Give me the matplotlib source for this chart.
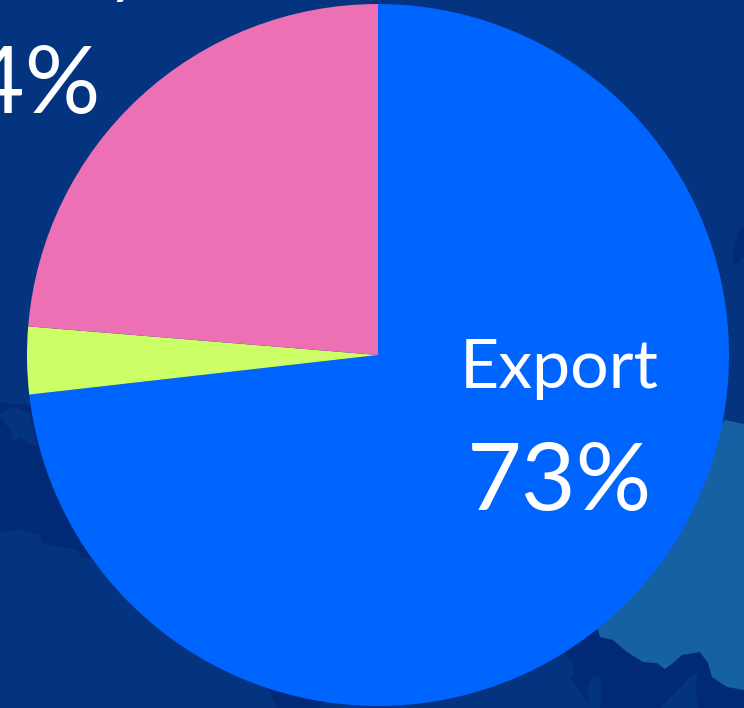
import matplotlib
matplotlib.use('Agg')
import matplotlib.pyplot as plt
from matplotlib.patches import Polygon

plt.rcParams['font.family'] = ['Lato', 'DejaVu Sans']

W = 744
H = 708

# pie
shares = [73.2, 3.1, 23.7]
colors = ['#0064ff', '#ccff66', '#ed70b5']
export_label = 'Export'
export_value = '73%'
other_value = '24%'
other_label_tail = 'y'

# map shapes behind the pie, traced in pixels
bg_color = '#04337f'
dark_color = '#002a75'
land_color = '#1660a4'

dark_left = [(0, 403), (30, 405), (150, 500), (150, 560), (90, 559), (80, 557), (78, 550), (67, 548),
             (42, 543), (40, 535), (17, 529), (0, 532)]
dark_strip = [(265, 680), (330, 680), (320, 708), (277, 708)]
dark_bottom = [(565, 640), (598, 630), (600, 637), (613, 640), (627, 652), (643, 662), (657, 663),
               (665, 669), (673, 663), (682, 655), (700, 652), (708, 663), (712, 677), (727, 687),
               (744, 690), (744, 708), (698, 708), (695, 687), (698, 672), (690, 677), (660, 708),
               (600, 708), (602, 690), (600, 675), (592, 677), (587, 690), (590, 708), (587, 702),
               (570, 677), (575, 673), (573, 663), (565, 655)]
dark_right = [(744, 226), (738, 232), (733, 252), (733, 264), (738, 263), (744, 256)]
land_right = [(725, 420), (744, 424), (744, 690), (727, 687), (712, 677), (708, 663), (700, 652),
              (682, 655), (673, 663), (665, 669), (657, 663), (643, 662), (627, 652), (613, 640),
              (600, 637), (598, 630), (560, 600)]
island_left = [(0, 413), (13, 407), (30, 413), (37, 447), (28, 443), (20, 437), (13, 442), (10, 430),
               (0, 417)]


def add_shape(ax, points, color):
    ax.add_patch(Polygon(points, closed=True, facecolor=color, edgecolor='none'))


fig = plt.figure(figsize=(W / 100, H / 100), dpi=100, facecolor=bg_color)

bg = fig.add_axes([0, 0, 1, 1])
bg.set_xlim(0, W)
bg.set_ylim(H, 0)
bg.axis('off')

add_shape(bg, dark_left, dark_color)
add_shape(bg, dark_strip, dark_color)
add_shape(bg, dark_bottom, dark_color)
add_shape(bg, dark_right, dark_color)
add_shape(bg, land_right, land_color)
add_shape(bg, island_left, bg_color)

# pie is 702 px across, centred at 378, 355
ax = fig.add_axes([27 / W, 1 - 706 / H, 702 / W, 702 / H])
ax.pie(shares, colors=colors, startangle=90, counterclock=False, radius=1,
       wedgeprops={'linewidth': 0})
ax.set_xlim(-1, 1)
ax.set_ylim(-1, 1)
ax.set_aspect('equal')

bg.set_zorder(0)
ax.set_zorder(1)

fig.text(559 / W, 1 - 388 / H, export_label, color='white', fontsize=49, ha='center', va='baseline')
fig.text(559 / W, 1 - 510 / H, export_value, color='white', fontsize=68, ha='center', va='baseline')
fig.text(101 / W, 1 - 113 / H, other_value, color='white', fontsize=68, ha='right', va='baseline')
fig.text(142 / W, 1 + 10 / H, other_label_tail, color='white', fontsize=49, ha='right', va='baseline')

fig.savefig('out.png', dpi=100, facecolor=bg_color)
